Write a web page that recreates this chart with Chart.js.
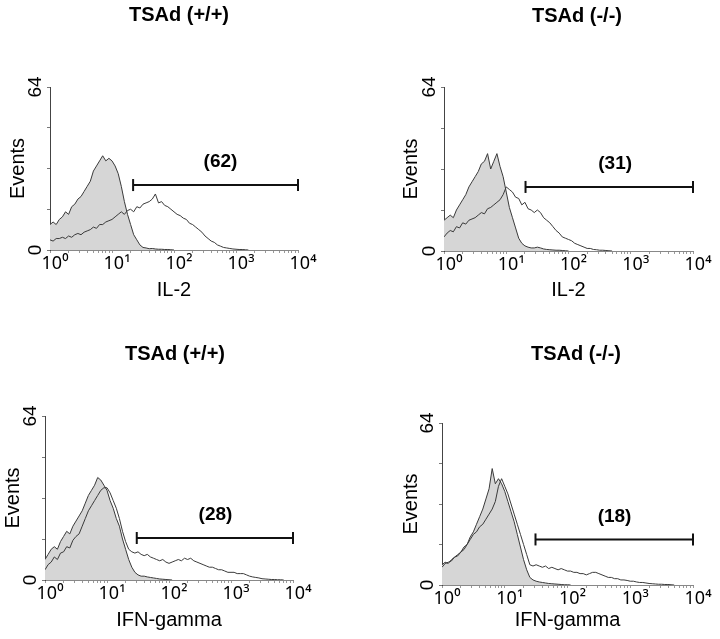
<!DOCTYPE html>
<html><head><meta charset="utf-8">
<script src="https://cdn.jsdelivr.net/npm/chart.js@4.4.1/dist/chart.umd.min.js"></script>
<style>
html,body{margin:0;padding:0;width:720px;height:639px;overflow:hidden;background:#fff;position:relative;}
canvas{position:absolute;}
</style></head><body>
<canvas id="c0"></canvas><canvas id="c1"></canvas><canvas id="c2"></canvas><canvas id="c3"></canvas>
<script>
// channel positions (decades of fluorescence)
const binDecades = [0,0.05,0.1,0.15,0.2,0.25,0.3,0.35,0.4,0.45,0.5,0.55,0.6,0.65,0.7,0.75,0.8,0.85,0.9,0.95,
  1,1.05,1.1,1.15,1.2,1.25,1.3,1.35,1.4,1.45,1.5,1.55,1.6,1.65,1.7,1.75,1.8,1.85,1.9,1.95,
  2,2.05,2.1,2.15,2.2,2.25,2.3,2.35,2.4,2.45,2.5,2.55,2.6,2.65,2.7,2.75,2.8,2.85,2.9,2.95,
  3,3.05,3.1,3.15,3.2,3.25,3.3,3.35,3.4,3.45,3.5,3.55,3.6,3.65,3.7,3.75,3.8,3.85,3.9,3.95,4];

const panelTitles = ['TSAd (+/+)', 'TSAd (-/-)', 'TSAd (+/+)', 'TSAd (-/-)'];
const xAxisLabels = ['IL-2', 'IL-2', 'IFN-gamma', 'IFN-gamma'];
const yAxisLabel = 'Events';
const xMajorValues = [1, 10, 100, 1000, 10000];
const xTickLabels = ['10\u2070', '10\u00B9', '10\u00B2', '10\u00B3', '10\u2074'];
const yTickValues = [0, 16, 32, 48, 64];
const yTickLabels = ['0', '', '', '', '64'];

// IL-2, TSAd +/+
const il2WtFilled = [10,11,10,12,13,15,14,17,18,20,21,23,25,27,31,33,35,37,35,36,35,33,30,25,19,14,10,6,4,2,1,0.8,0.5,0.6,0.4,0.3,0.3,0.2,0.2,0.1,0];
const il2WtOpen = [4,3.5,4.5,4.5,5,4.5,5.5,5,6,6.5,6,7,7.5,8,9,8.5,10,10,11,11.5,12,13,14,15,14,15.5,16,15,17,16.5,18,18.5,19,20,22,18.5,19,17.5,17,16,15,14,13.5,12.5,12,10.5,10,9,8,7,5.5,4.5,3.5,3,2,1.5,1,0.8,0.6,0.4,0.3,0.2,0.2,0.1,0];
// IL-2, TSAd -/-
const il2KoFilled = [12,13,14,13,16,18,20,22,25,27,29,31,34,35,38,32,35,38,33,29,23,17,13,9,5,3,2,1.5,1.2,1.2,1.5,1.2,0.8,0.6,0.5,0.4,0.3,0.3,0.2,0.1,0];
const il2KoOpen = [5.5,7,8,7.5,9.5,9,11,10.5,12,12.5,13,14,15,14.5,16.5,17,18,19,20,22,25,24,23,21,20.5,18,19,16.5,16,15,16,15,13,12,11,9.5,8,7,5.5,5,4.5,4,3,2.5,2,1.5,1,1,0.6,0.5,0.3,0.3,0.2,0.1,0];
// IFN-gamma, TSAd +/+
const ifnWtFilled = [8,10,12,13,12,15,17,19,18,21,23,25,27,30,33,35,37,40,39,37,35,31,28,24,21,16,12,8,5,3,2,1.5,1.5,1.2,1,0.8,0.6,0.4,0.3,0.2,0.1,0];
const ifnWtOpen = [4,6,7,9,8,10.5,11,13,12.5,15.5,17,18,21,24,27,29,31,33,35,36,36,34,31,28,24,19,15,12,11,10.5,11,10,9.5,10,9,8.5,8,7.5,8,7,6.5,7,7.5,8,7.5,8.5,8,8.5,7.5,7,6.5,6,5.5,5,5,4.5,4,4,3.5,3,3,3,2.5,2.5,2.5,2,1.5,1.2,1,0.8,0.5,0.4,0.3,0.2,0.2,0.1,0.1,0];
// IFN-gamma, TSAd -/-
const ifnKoFilled = [8,9,8.5,10,11,12,13,15,16,19,21,24,27,30,34,38,46,40,42,40,37,33,29,25,20,15,10,6,3,2,1.5,1.2,1,0.8,0.6,0.5,0.4,0.3,0.2,0.1,0.1,0];
const ifnKoOpen = [7,8.5,9,9.5,11,11.5,13,14,16,18,20,21,23,24,26,28,30,33,39,42,39,36,32,28,24,20,16,12,8,7.5,8,7.5,7,7.5,6.5,7,6.5,6,6.5,6,5.5,5.5,5,5,4.5,4.5,4,4.5,5,5,4.5,4,3.5,3,3,2.5,2.5,2,2,1.8,1.5,1.5,1.2,1,1,0.8,0.6,0.5,0.4,0.3,0.3,0.2,0.2,0.1,0];

// gates (marker regions) with percentage labels
const gateStart = [21.9, 20.4, 30.2, 30.9];
const gateEnd = [10000, 10000, 10000, 10000];
const gateLevel = [25.5, 25, 16.4, 18];
const gateLabels = ['(62)', '(31)', '(28)', '(18)'];
const gateLabelAt = [562, 562, 562, 562];

const filledSeries = [il2WtFilled, il2KoFilled, ifnWtFilled, ifnKoFilled];
const openSeries = [il2WtOpen, il2KoOpen, ifnWtOpen, ifnKoOpen];

// layout (canvas placement & box sizes)
const layouts = [
  {left:0, top:0, w:360, h:320, padR:2, yW:50, yRW:60, xH:70, tTop:3, tBot:60, yTPad:6, xTPad:18},
  {left:360, top:0, w:440, h:320, padR:6, yW:84, yRW:101, xH:69, tTop:4, tBot:59, yTPad:39.5, xTPad:18},
  {left:0, top:320, w:360, h:319, padR:10, yW:45, yRW:57, xH:59, tTop:22, tBot:50, yTPad:1.5, xTPad:7},
  {left:360, top:320, w:440, h:319, padR:8, yW:82, yRW:99, xH:54, tTop:22, tBot:57, yTPad:39.5, xTPad:7}
];

const FONT = "'Liberation Sans', Arial, Helvetica, sans-serif";
const TICKFONT = "'Noto Sans', 'DejaVu Sans', sans-serif";
Chart.defaults.font.family = FONT;
Chart.defaults.color = '#000';

const gateTextPlugin = {
  id: 'gateText',
  afterDatasetsDraw(chart, args, opts) {
    const ctx = chart.ctx;
    const xs = chart.scales.x, ys = chart.scales.y;
    ctx.save();
    ctx.font = 'bold 19px ' + FONT;
    ctx.fillStyle = '#000';
    ctx.textAlign = 'center';
    ctx.textBaseline = 'middle';
    ctx.fillText(opts.text, xs.getPixelForValue(opts.x), ys.getPixelForValue(opts.y) - opts.dy);
    ctx.restore();
  }
};

const xMinorTicks = [];
for (let d = 0; d < 4; d++) {
  for (let k = 1; k < 10; k++) xMinorTicks.push(k * Math.pow(10, d));
}
xMinorTicks.push(10000);

function toPoints(arr) {
  return arr.map((v, i) => ({x: Math.pow(10, binDecades[i]), y: v}));
}

layouts.forEach((L, p) => {
  const cv = document.getElementById('c' + p);
  cv.width = L.w; cv.height = L.h;
  cv.style.left = L.left + 'px'; cv.style.top = L.top + 'px';
  cv.style.width = L.w + 'px'; cv.style.height = L.h + 'px';
  new Chart(cv, {
    type: 'line',
    data: {
      datasets: [
        {
          data: [{x: gateStart[p], y: gateLevel[p]}, {x: gateEnd[p], y: gateLevel[p]}],
          borderColor: '#111', borderWidth: 2,
          pointStyle: 'line', pointRotation: 90, pointRadius: 6,
          pointBorderWidth: 2, pointBorderColor: '#111', pointBackgroundColor: '#111',
          fill: false, clip: false, order: 0, yAxisID: 'y'
        },
        {
          data: toPoints(openSeries[p]),
          borderColor: '#3a3a3a', borderWidth: 1, pointRadius: 0,
          fill: false, tension: 0, order: 1, yAxisID: 'y'
        },
        {
          data: toPoints(filledSeries[p]),
          borderColor: '#3a3a3a', borderWidth: 1, pointRadius: 0,
          backgroundColor: '#d6d6d6', fill: 'origin', tension: 0, order: 2, yAxisID: 'y'
        }
      ]
    },
    options: {
      responsive: false, animation: false, devicePixelRatio: 1,
      layout: {padding: {left: 0, right: L.padR, top: 0, bottom: 0}},
      plugins: {
        legend: {display: false},
        tooltip: {enabled: false},
        title: {
          display: true, text: panelTitles[p], fullSize: true,
          font: {size: 20, weight: 'bold', family: FONT}, color: '#000',
          padding: {top: L.tTop, bottom: L.tBot}
        },
        gateText: {text: gateLabels[p], x: gateLabelAt[p], y: gateLevel[p], dy: 23}
      },
      scales: {
        x: {
          type: 'logarithmic', min: 1, max: 10000,
          afterBuildTicks: (s) => { s.ticks = xMinorTicks.map(v => ({value: v})); },
          afterFit: (s) => { s.height = L.xH; },
          ticks: {
            autoSkip: false, maxRotation: 0, minRotation: 0, padding: 0, labelOffset: 5,
            font: {size: 18, family: TICKFONT}, color: '#000',
            callback: (v) => { const i = xMajorValues.indexOf(v); return i >= 0 ? xTickLabels[i] : ''; }
          },
          grid: {display: true, drawOnChartArea: false, drawTicks: true, tickLength: 3, color: '#999'},
          border: {display: true, color: '#888', width: 1},
          title: {display: true, text: xAxisLabels[p], font: {size: 20, family: FONT}, color: '#000', padding: {top: 0, bottom: L.xTPad}}
        },
        y: {
          type: 'linear', min: 0, max: 64, position: 'left',
          afterBuildTicks: (s) => { s.ticks = yTickValues.map(v => ({value: v})); },
          afterFit: (s) => { s.width = L.yW; },
          ticks: {
            autoSkip: false, minRotation: 90, maxRotation: 90, crossAlign: 'center', padding: 1,
            font: {size: 19, family: FONT}, color: '#000',
            callback: (v) => { const i = yTickValues.indexOf(v); return i >= 0 ? yTickLabels[i] : ''; }
          },
          grid: {display: true, drawOnChartArea: false, drawTicks: true, tickLength: 3, color: '#777'},
          border: {display: true, color: '#444', width: 1},
          title: {display: true, text: yAxisLabel, font: {size: 20, family: FONT}, color: '#000', padding: {top: L.yTPad, bottom: 0}}
        },
        yR: {
          type: 'linear', position: 'right', display: true,
          afterFit: (s) => { s.width = L.yRW; },
          ticks: {display: false}, grid: {display: false}, border: {display: false}
        }
      }
    },
    plugins: [gateTextPlugin]
  });
});
</script>
</body></html>
